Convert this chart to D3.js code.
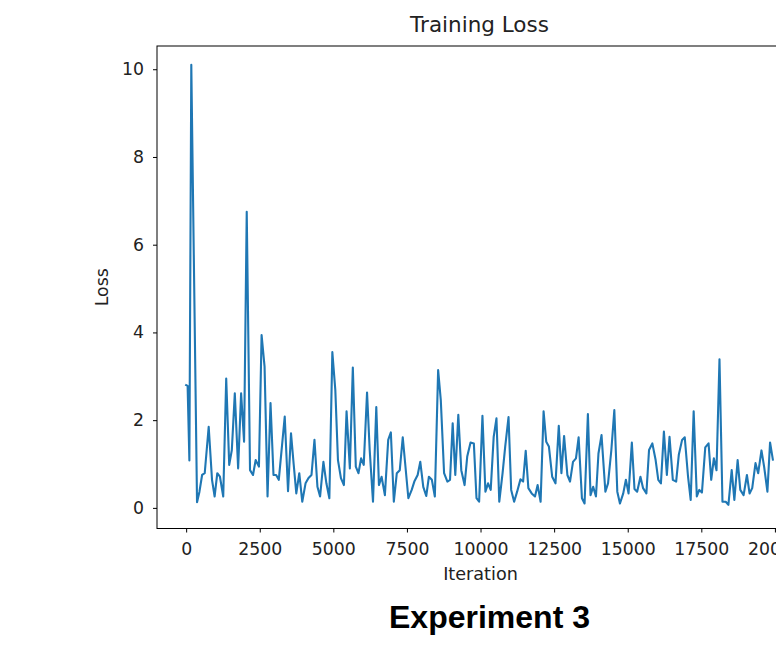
<!DOCTYPE html>
<html><head><meta charset="utf-8">
<script src="https://cdn.jsdelivr.net/npm/d3@7"></script>
<style>
html,body{margin:0;padding:0;background:#fff;}
svg{display:block;}
</style></head>
<body>
<script>
const title = "Training Loss";
const xLabel = "Iteration";
const yLabel = "Loss";
const caption = "Experiment 3";
const xTicks = [0,2500,5000,7500,10000,12500,15000,17500,20000];
const yTicks = [0,2,4,6,8,10];
const iterations = [0,50,110,175,370,452,542,631,766,879,968,1058,1148,1260,1361,1463,1552,1653,1766,1867,1968,2058,2170,2271,2361,2473,2563,2664,2765,2866,2967,3057,3147,3349,3461,3562,3652,3742,3843,3944,4056,4157,4258,4359,4460,4550,4663,4764,4865,4966,5067,5157,5258,5359,5449,5561,5662,5763,5853,5943,6033,6145,6235,6347,6459,6549,6639,6751,6864,6954,7055,7156,7257,7358,7549,7662,7751,7864,7954,8055,8156,8246,8347,8448,8560,8650,8762,8874,8964,9054,9143,9245,9346,9458,9548,9661,9773,9863,9952,10065,10166,10256,10346,10447,10541,10637,10749,10839,10951,11041,11142,11243,11356,11446,11535,11625,11738,11850,11940,12041,12142,12232,12322,12434,12546,12658,12748,12838,12950,13040,13141,13242,13332,13445,13534,13647,13737,13826,13921,14006,14110,14241,14331,14444,14545,14646,14736,14848,14938,15028,15140,15230,15320,15432,15522,15634,15724,15836,15948,16038,16128,16229,16330,16420,16532,16645,16735,16847,16937,17049,17139,17240,17347,17431,17521,17634,17746,17836,17926,18016,18117,18218,18330,18420,18532,18622,18734,18824,18936,19049,19139,19229,19341,19431,19543,19633,19745,19835,19930];
const losses = [2.80,2.78,1.08,10.1,0.13,0.37,0.75,0.79,1.85,0.64,0.26,0.79,0.71,0.26,2.95,0.98,1.32,2.61,0.90,2.61,1.51,6.75,0.86,0.75,1.09,0.94,3.94,3.22,0.26,2.39,0.75,0.75,0.64,2.08,0.38,1.70,1.00,0.33,0.79,0.14,0.56,0.68,0.75,1.55,0.48,0.26,1.05,0.56,0.22,3.55,2.69,1.09,0.68,0.52,2.20,0.90,3.20,0.94,0.79,1.13,0.98,2.63,1.32,0.14,2.30,0.52,0.71,0.29,1.55,1.72,0.14,0.79,0.86,1.61,0.22,0.41,0.60,0.75,1.05,0.48,0.27,0.71,0.64,0.26,3.14,2.46,0.79,0.60,0.64,1.93,0.75,2.12,0.86,0.52,1.17,1.49,1.47,0.22,0.14,2.10,0.37,0.56,0.41,1.62,2.04,0.14,0.79,1.40,2.07,0.41,0.14,0.37,0.65,0.60,1.30,0.45,0.33,0.26,0.52,0.14,2.20,1.51,1.40,0.71,0.56,1.87,0.79,1.64,0.75,0.60,1.05,1.13,1.61,0.22,0.10,2.14,0.29,0.48,0.26,1.24,1.66,0.37,0.56,1.32,2.23,0.37,0.10,0.33,0.64,0.33,1.49,0.43,0.37,0.71,0.45,0.33,1.32,1.47,1.09,0.64,0.56,1.74,0.75,1.62,0.64,0.60,1.21,1.55,1.61,0.71,0.18,2.20,0.26,0.41,0.35,1.38,1.47,0.64,1.13,0.86,3.39,0.14,0.14,0.07,0.86,0.18,1.09,0.41,0.29,0.75,0.33,0.45,1.02,0.79,1.31,0.94,0.37,1.49,1.10];

const W = 776, H = 649;
const plot = {left: 157, top: 46, right: 802, bottom: 528.5};
const svg = d3.select("body").append("svg").attr("width", W).attr("height", H);

const x = d3.scaleLinear().domain([-990, 20920]).range([plot.left, plot.right]);
const y = d3.scaleLinear().domain([-0.47, 10.53]).range([plot.bottom, plot.top]);

const tickFont = "'DejaVu Sans', sans-serif";
const tickSize = "17.3px";

// line
const data = iterations.map((it, i) => ({it, v: losses[i]}));
svg.append("defs").append("clipPath").attr("id","clip")
  .append("rect").attr("x", plot.left).attr("y", plot.top)
  .attr("width", plot.right-plot.left).attr("height", plot.bottom-plot.top);
svg.append("path").datum(data)
  .attr("clip-path","url(#clip)")
  .attr("fill","none").attr("stroke","#1f77b4").attr("stroke-width",2.1)
  .attr("stroke-linejoin","round").attr("stroke-linecap","square")
  .attr("d", d3.line().x(d => x(d.it)).y(d => y(d.v)));

// frame
svg.append("rect").attr("x", plot.left).attr("y", plot.top)
  .attr("width", plot.right-plot.left).attr("height", plot.bottom-plot.top)
  .attr("fill","none").attr("stroke","#000").attr("stroke-width",1);

// axes
const xAxis = svg.append("g").attr("transform", `translate(0,${plot.bottom})`)
  .call(d3.axisBottom(x).tickValues(xTicks).tickFormat(d3.format("d")).tickSize(4).tickPadding(10));
const yAxis = svg.append("g").attr("transform", `translate(${plot.left},0)`)
  .call(d3.axisLeft(y).tickValues(yTicks).tickFormat(d3.format("d")).tickSize(4).tickPadding(9));
[xAxis, yAxis].forEach(a => {
  a.select(".domain").remove();
  a.selectAll("line").attr("stroke","#000").attr("stroke-width",1);
  a.selectAll("text").attr("fill","#222").style("font-family", tickFont).style("font-size", tickSize);
});

// labels
svg.append("text").attr("x", (plot.left+plot.right)/2).attr("y", 32)
  .attr("text-anchor","middle").style("font-family", tickFont).style("font-size","21.5px")
  .attr("fill","#222").text(title);
svg.append("text").attr("x", 480.5).attr("y", 580)
  .attr("text-anchor","middle").style("font-family", tickFont).style("font-size","17.6px")
  .attr("fill","#222").text(xLabel);
svg.append("text").attr("transform", `translate(108,${(plot.top+plot.bottom)/2}) rotate(-90)`)
  .attr("text-anchor","middle").style("font-family", tickFont).style("font-size","17.3px")
  .attr("fill","#222").text(yLabel);
svg.append("text").attr("x", 489.5).attr("y", 628)
  .attr("text-anchor","middle").style("font-family", "'Liberation Sans', Arial, sans-serif")
  .style("font-weight","bold").style("font-size","32px")
  .attr("fill","#000").text(caption);
</script>
</body></html>
